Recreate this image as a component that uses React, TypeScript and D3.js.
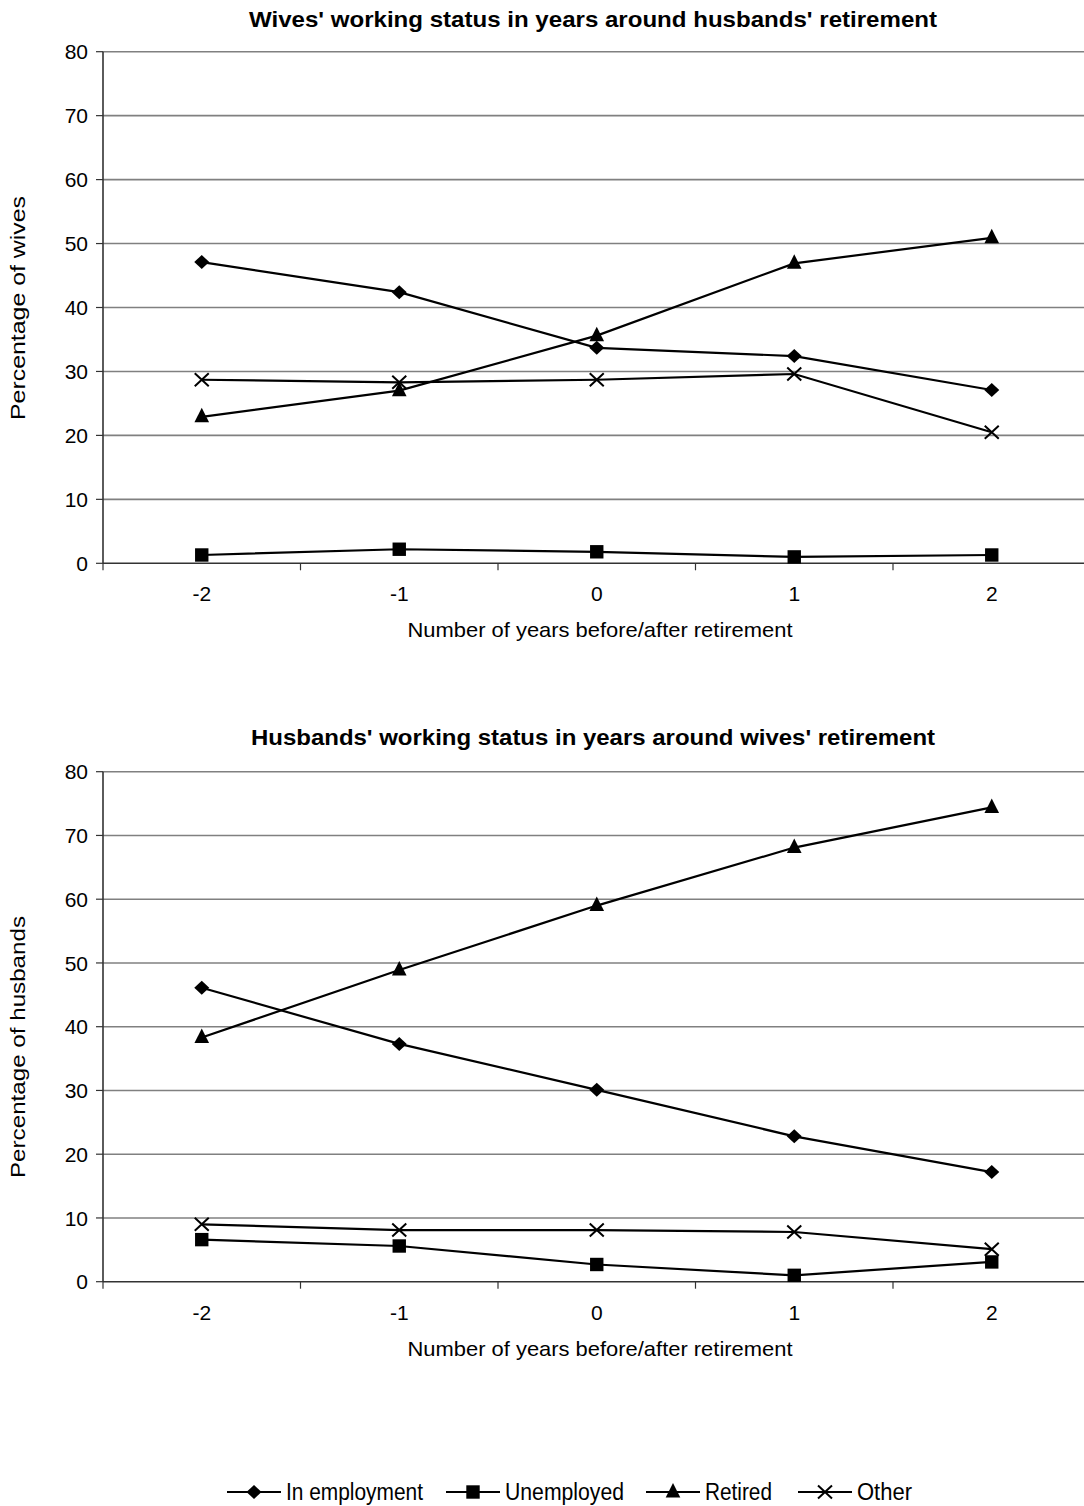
import React from "react";
import * as d3 from "d3";

const years = ["-2", "-1", "0", "1", "2"];
const yTicks = [0, 10, 20, 30, 40, 50, 60, 70, 80];
const seriesNames = ["In employment", "Unemployed", "Retired", "Other"];
const markerTypes = ["diamond", "square", "triangle", "cross"];

const wivesEmployment = [47.1, 42.4, 33.7, 32.4, 27.1];
const wivesUnemployed = [1.3, 2.2, 1.8, 1.0, 1.3];
const wivesRetired = [22.9, 27.0, 35.6, 46.9, 50.9];
const wivesOther = [28.7, 28.3, 28.7, 29.6, 20.5];

const husbandsEmployment = [46.1, 37.3, 30.1, 22.8, 17.2];
const husbandsUnemployed = [6.6, 5.6, 2.7, 1.0, 3.1];
const husbandsRetired = [38.3, 48.9, 59.0, 68.1, 74.4];
const husbandsOther = [9.0, 8.1, 8.1, 7.8, 5.1];

const FONT = "'Liberation Sans', Arial, sans-serif";

function Marker({ type, x, y }: { type: string; x: number; y: number }) {
  if (type === "diamond") {
    return <path d={`M${x},${y - 7}L${x + 7.5},${y}L${x},${y + 7}L${x - 7.5},${y}Z`} fill="#000" />;
  }
  if (type === "square") {
    return <rect x={x - 6.7} y={y - 6.7} width={13.4} height={13.4} fill="#000" />;
  }
  if (type === "triangle") {
    return <path d={`M${x},${y - 9}L${x + 7.3},${y + 5.5}L${x - 7.3},${y + 5.5}Z`} fill="#000" />;
  }
  return (
    <path
      d={`M${x - 7},${y - 6.5}L${x + 7},${y + 6.5}M${x - 7},${y + 6.5}L${x + 7},${y - 6.5}`}
      stroke="#000"
      strokeWidth={2}
      fill="none"
    />
  );
}

function Panel({
  top,
  bottom,
  title,
  titleY,
  titleLen,
  ylabel,
  ylabelLen,
  ylabelY,
  data,
}: {
  top: number;
  bottom: number;
  title: string;
  titleY: number;
  titleLen: number;
  ylabel: string;
  ylabelLen: number;
  ylabelY: number;
  data: number[][];
}) {
  const left = 103;
  const right = 1090.5;
  const x = d3.scaleBand<string>().domain(years).range([left, right]);
  const y = d3.scaleLinear().domain([0, 80]).range([bottom, top]);
  const line = d3
    .line<number>()
    .x((_, i) => (x(years[i]) as number) + x.bandwidth() / 2)
    .y((d) => y(d));
  const tickXs = years.map((yr) => x(yr) as number).concat([right]);
  return (
    <g>
      <text
        x={593}
        y={titleY}
        textAnchor="middle"
        fontFamily={FONT}
        fontWeight="bold"
        fontSize={22}
        textLength={titleLen}
        lengthAdjust="spacingAndGlyphs"
      >
        {title}
      </text>
      {yTicks.map((t) => (
        <g key={t}>
          {t > 0 && (
            <line x1={left} x2={1084} y1={y(t)} y2={y(t)} stroke="#808080" strokeWidth={1.6} />
          )}
          <line x1={left - 7} x2={left} y1={y(t)} y2={y(t)} stroke="#333" strokeWidth={1.2} />
          <text
            x={left - 15}
            y={y(t)}
            dy="0.36em"
            textAnchor="end"
            fontFamily={FONT}
            fontSize={21}
          >
            {t}
          </text>
        </g>
      ))}
      <line x1={left} x2={left} y1={top} y2={bottom} stroke="#333" strokeWidth={1.6} />
      <line x1={left} x2={1084} y1={bottom} y2={bottom} stroke="#333" strokeWidth={1.6} />
      {tickXs.map((tx, i) => (
        <line key={i} x1={tx} x2={tx} y1={bottom} y2={bottom + 7} stroke="#333" strokeWidth={1.2} />
      ))}
      {years.map((yr) => (
        <text
          key={yr}
          x={(x(yr) as number) + x.bandwidth() / 2}
          y={bottom + 38}
          textAnchor="middle"
          fontFamily={FONT}
          fontSize={21}
        >
          {yr}
        </text>
      ))}
      <text
        x={600}
        y={bottom + 74}
        textAnchor="middle"
        fontFamily={FONT}
        fontSize={21}
        textLength={385}
        lengthAdjust="spacingAndGlyphs"
      >
        Number of years before/after retirement
      </text>
      <text
        transform={`translate(25,${ylabelY}) rotate(-90)`}
        textAnchor="middle"
        fontFamily={FONT}
        fontSize={20}
        textLength={ylabelLen}
        lengthAdjust="spacingAndGlyphs"
      >
        {ylabel}
      </text>
      {data.map((s, si) => (
        <g key={si}>
          <path d={line(s) as string} fill="none" stroke="#000" strokeWidth={2.2} />
          {s.map((v, i) => (
            <Marker
              key={i}
              type={markerTypes[si]}
              x={(x(years[i]) as number) + x.bandwidth() / 2}
              y={y(v)}
            />
          ))}
        </g>
      ))}
    </g>
  );
}

export default function App() {
  const legendXs = [227, 446, 646, 798];
  const legendLens = [137, 119, 67, 55];
  return (
    <svg
      width={1084}
      height={1506}
      style={{ position: "absolute", left: 0, top: 0, background: "#fff" }}
    >
      <rect x={0} y={0} width={1084} height={1506} fill="#fff" />
      <Panel
        top={51.7}
        bottom={563.3}
        title="Wives' working status in years around husbands' retirement"
        titleY={27}
        titleLen={688}
        ylabel="Percentage of wives"
        ylabelLen={224}
        ylabelY={308}
        data={[wivesEmployment, wivesUnemployed, wivesRetired, wivesOther]}
      />
      <Panel
        top={771.7}
        bottom={1281.7}
        title="Husbands' working status in years around wives' retirement"
        titleY={745}
        titleLen={684}
        ylabel="Percentage of husbands"
        ylabelLen={262}
        ylabelY={1047}
        data={[husbandsEmployment, husbandsUnemployed, husbandsRetired, husbandsOther]}
      />
      {seriesNames.map((n, i) => (
        <g key={n}>
          <line
            x1={legendXs[i]}
            x2={legendXs[i] + 54}
            y1={1492}
            y2={1492}
            stroke="#000"
            strokeWidth={2}
          />
          <Marker type={markerTypes[i]} x={legendXs[i] + 27} y={1492} />
          <text
            x={legendXs[i] + 59}
            y={1500}
            fontFamily={FONT}
            fontSize={23}
            textLength={legendLens[i]}
            lengthAdjust="spacingAndGlyphs"
          >
            {n}
          </text>
        </g>
      ))}
    </svg>
  );
}
